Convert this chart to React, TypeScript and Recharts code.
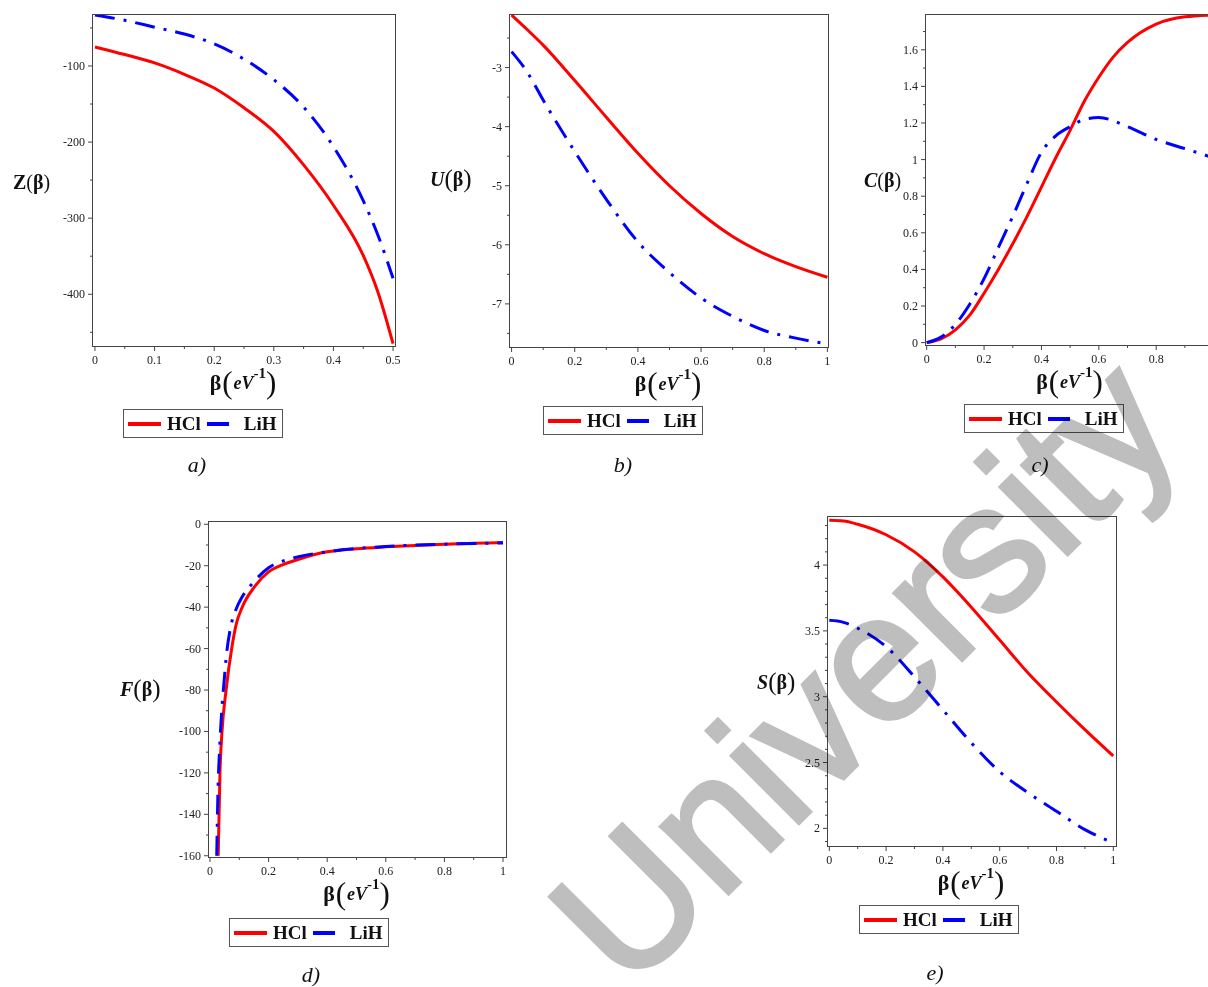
import { LineChart, Line, XAxis, YAxis } from 'recharts';

// a) Z(beta)
const Z_BETA = [0, 0.05, 0.1, 0.15, 0.2, 0.25, 0.3, 0.35, 0.4, 0.45, 0.475, 0.5];
const Z_HCL = [-75, -85, -96, -111, -129, -155, -186, -230, -283, -349, -398, -465];
const Z_LIH = [-33, -40, -49, -58, -71, -91, -118, -154, -206, -277, -323, -379];

// b) U(beta)
const U_BETA = [0, 0.05, 0.1, 0.2, 0.3, 0.4, 0.5, 0.6, 0.7, 0.8, 0.9, 1];
const U_HCL = [-2.11, -2.36, -2.62, -3.22, -3.84, -4.45, -5.0, -5.47, -5.86, -6.15, -6.37, -6.55];
const U_LIH = [-2.73, -3.08, -3.55, -4.42, -5.23, -5.95, -6.47, -6.9, -7.21, -7.45, -7.58, -7.68];

// c) C(beta)
const C_BETA_HCL = [0, 0.05, 0.1, 0.15, 0.2, 0.25, 0.3, 0.35, 0.4, 0.45, 0.5, 0.55, 0.6, 0.65, 0.7, 0.8, 0.9, 1];
const C_HCL = [0, 0.02, 0.07, 0.15, 0.27, 0.4, 0.54, 0.69, 0.85, 1.01, 1.16, 1.32, 1.45, 1.56, 1.64, 1.74, 1.78, 1.79];
const C_BETA_LIH = [0, 0.05, 0.1, 0.15, 0.2, 0.25, 0.3, 0.35, 0.4, 0.45, 0.5, 0.55, 0.6, 0.7, 0.8, 0.9, 1];
const C_LIH = [0, 0.03, 0.1, 0.21, 0.35, 0.52, 0.69, 0.87, 1.04, 1.13, 1.18, 1.22, 1.23, 1.18, 1.11, 1.06, 1.01];

// d) F(beta)
const F_BETA_HCL = [0.028, 0.034, 0.041, 0.055, 0.074, 0.09, 0.11, 0.153, 0.2, 0.24, 0.3, 0.4, 0.5, 0.6, 0.7, 0.8, 0.9, 1];
const F_HCL = [-160, -120, -100, -80, -60, -48, -40, -30, -23, -20, -17, -13.3, -11.8, -10.9, -10.2, -9.6, -9.2, -8.8];
const F_BETA_LIH = [0.023, 0.027, 0.033, 0.04, 0.048, 0.057, 0.07, 0.089, 0.11, 0.142, 0.2, 0.28, 0.4, 0.5, 0.6, 0.8, 1];
const F_LIH = [-160, -130, -108, -90, -76, -62, -50, -41, -35, -29, -21, -16.5, -13.3, -11.7, -10.7, -9.6, -9];

// e) S(beta)
const S_BETA = [0, 0.05, 0.1, 0.2, 0.3, 0.4, 0.5, 0.6, 0.7, 0.8, 0.9, 1];
const S_HCL = [4.34, 4.335, 4.31, 4.23, 4.1, 3.91, 3.68, 3.43, 3.18, 2.96, 2.75, 2.55];
const S_LIH = [3.58, 3.565, 3.52, 3.38, 3.15, 2.9, 2.65, 2.43, 2.27, 2.13, 1.99, 1.89];

// tick labels
const X_MAJOR_HALF = [0, 0.1, 0.2, 0.3, 0.4, 0.5];
const X_MAJOR_ONE = [0, 0.2, 0.4, 0.6, 0.8, 1];
const X_LABELS_C = [0, 0.2, 0.4, 0.6, 0.8]; // "1" falls outside the page in c)
const Z_MAJOR = [-400, -300, -200, -100];
const U_MAJOR = [-7, -6, -5, -4, -3];
const C_MAJOR = [0, 0.2, 0.4, 0.6, 0.8, 1, 1.2, 1.4, 1.6];
const F_MAJOR = [-160, -140, -120, -100, -80, -60, -40, -20, 0];
const S_MAJOR = [2, 2.5, 3, 3.5, 4];

const YW = 45, MT = 5, MR = 5, XH = 25;
const SERIF = '"Liberation Serif", "Times New Roman", serif';

const pts = (beta: number[], vals: number[]) => beta.map((b, i) => ({ b, v: vals[i] }));
const steps = (from: number, to: number, step: number) => {
  const out: number[] = [];
  for (let k = 0; from + k * step <= to + step / 2; k++) out.push(Math.round((from + k * step) * 1e6) / 1e6);
  return out;
};
const has = (list: number[], v: number) => list.some((m) => Math.abs(m - v) < 1e-6);

const makeYTick = (majors: number[]) => (props: any) => {
  const { y, payload } = props;
  const major = has(majors, payload.value);
  return (
    <g>
      <line x1={YW - (major ? 5 : 3)} x2={YW} y1={y} y2={y} stroke="#444" />
      {major && (
        <text x={YW - 8} y={y + 4} textAnchor="end" fontSize={12} fill="#222" fontFamily={SERIF}>
          {String(payload.value)}
        </text>
      )}
    </g>
  );
};

const makeXTick = (majors: number[], labels: number[], axisY: number) => (props: any) => {
  const { x, payload } = props;
  const major = has(majors, payload.value);
  return (
    <g>
      <line x1={x} x2={x} y1={axisY} y2={axisY + (major ? 5 : 3)} stroke="#444" />
      {has(labels, payload.value) && (
        <text x={x} y={axisY + 18} textAnchor="middle" fontSize={12} fill="#222" fontFamily={SERIF}>
          {String(payload.value)}
        </text>
      )}
    </g>
  );
};

const PANELS = [
  {
    id: 'a', left: 93, top: 15, w: 302, h: 331,
    xDomain: [-0.0033, 0.5033], yDomain: [-468, -33],
    xMajor: X_MAJOR_HALF, xLabels: X_MAJOR_HALF, xMinor: steps(0, 0.5, 0.05), yMajor: Z_MAJOR, yMinor: steps(-450, -50, 50),
    hcl: pts(Z_BETA, Z_HCL), lih: pts(Z_BETA, Z_LIH),
    yl: { ch: 'Z', italic: false, big: false, left: 13, top: 172 },
    legend: { left: 123, top: 409 }, cap: { text: 'a)', cx: 197, top: 452 },
  },
  {
    id: 'b', left: 510, top: 15, w: 318, h: 332,
    xDomain: [-0.005, 1.002], yDomain: [-7.73, -2.11],
    xMajor: X_MAJOR_ONE, xLabels: X_MAJOR_ONE, xMinor: steps(0, 1, 0.1), yMajor: U_MAJOR, yMinor: steps(-7.5, -2.5, 0.5),
    hcl: pts(U_BETA, U_HCL), lih: pts(U_BETA, U_LIH),
    yl: { ch: 'U', italic: true, big: true, left: 430, top: 166 },
    legend: { left: 543, top: 406 }, cap: { text: 'b)', cx: 623, top: 452 },
  },
  {
    id: 'c', left: 926, top: 15, w: 289, h: 330,
    xDomain: [-0.0024, 1.005], yDomain: [-0.013, 1.79],
    xMajor: X_MAJOR_ONE, xLabels: X_LABELS_C, xMinor: steps(0, 1, 0.1), yMajor: C_MAJOR, yMinor: steps(0.1, 1.7, 0.1),
    hcl: pts(C_BETA_HCL, C_HCL), lih: pts(C_BETA_LIH, C_LIH),
    yl: { ch: 'C', italic: true, big: false, left: 864, top: 170 },
    legend: { left: 964, top: 404 }, cap: { text: 'c)', cx: 1040, top: 452 },
  },
  {
    id: 'd', left: 209, top: 522, w: 297, h: 335,
    xDomain: [-0.0034, 1.0102], yDomain: [-160.6, 1.1],
    xMajor: X_MAJOR_ONE, xLabels: X_MAJOR_ONE, xMinor: steps(0, 1, 0.1), yMajor: F_MAJOR, yMinor: steps(-150, -10, 10),
    hcl: pts(F_BETA_HCL, F_HCL), lih: pts(F_BETA_LIH, F_LIH),
    yl: { ch: 'F', italic: true, big: true, left: 120, top: 676 },
    legend: { left: 229, top: 918 }, cap: { text: 'd)', cx: 311, top: 962 },
  },
  {
    id: 'e', left: 828, top: 517, w: 288, h: 329,
    xDomain: [-0.0046, 1.0095], yDomain: [1.866, 4.365],
    xMajor: X_MAJOR_ONE, xLabels: X_MAJOR_ONE, xMinor: steps(0, 1, 0.1), yMajor: S_MAJOR, yMinor: steps(1.9, 4.3, 0.1),
    hcl: pts(S_BETA, S_HCL), lih: pts(S_BETA, S_LIH),
    yl: { ch: 'S', italic: true, big: true, left: 757, top: 669 },
    legend: { left: 859, top: 905 }, cap: { text: 'e)', cx: 935, top: 960 },
  },
];

const YLabel = ({ yl }: any) => (
  <div style={{ position: 'absolute', left: yl.left, top: yl.top, fontFamily: SERIF, color: '#111', whiteSpace: 'nowrap', lineHeight: 1, display: 'flex', alignItems: 'center' }}>
    <span style={{ fontSize: 20, fontWeight: 700, fontStyle: yl.italic ? 'italic' : 'normal' }}>{yl.ch}</span>
    <span style={{ fontSize: yl.big ? 25 : 20, fontWeight: yl.big ? 300 : 400 }}>(</span>
    <span style={{ fontSize: 20, fontWeight: 700 }}>β</span>
    <span style={{ fontSize: yl.big ? 25 : 20, fontWeight: yl.big ? 300 : 400 }}>)</span>
  </div>
);

const XLabel = ({ cx, top }: { cx: number; top: number }) => (
  <div style={{ position: 'absolute', left: cx, top, transform: 'translateX(-50%)', fontFamily: SERIF, color: '#111', whiteSpace: 'nowrap', lineHeight: 1, display: 'flex', alignItems: 'center' }}>
    <span style={{ fontSize: 22, fontWeight: 700 }}>β</span>
    <span style={{ fontSize: 31, fontWeight: 300, margin: '0 1px' }}>(</span>
    <span style={{ fontSize: 18, fontWeight: 700, fontStyle: 'italic' }}>eV</span>
    <span style={{ fontSize: 15, fontWeight: 700, position: 'relative', top: -9 }}>-1</span>
    <span style={{ fontSize: 31, fontWeight: 300 }}>)</span>
  </div>
);

const LegendBox = ({ left, top }: { left: number; top: number }) => (
  <div style={{ position: 'absolute', left, top, height: 29, boxSizing: 'border-box', border: '1.5px solid #555', background: '#fff', display: 'flex', alignItems: 'center', padding: '0 5px 0 4px', fontFamily: SERIF, fontWeight: 700, fontSize: 19, color: '#111' }}>
    <span style={{ display: 'inline-block', width: 33, height: 4, background: '#ff0000', marginRight: 6 }} />
    <span>HCl</span>
    <span style={{ display: 'inline-block', width: 22, height: 4, background: '#0000ff', margin: '0 15px 0 6px' }} />
    <span>LiH</span>
  </div>
);

const Panel = ({ p }: any) => {
  const W = YW + p.w + MR;
  const H = MT + p.h + XH;
  const xTicks = Array.from(new Set([...p.xMinor, ...p.xMajor])).sort((a: any, b: any) => a - b);
  const yTicks = Array.from(new Set([...p.yMinor, ...p.yMajor])).sort((a: any, b: any) => a - b);
  return (
    <>
      <div style={{ position: 'absolute', left: p.left - YW, top: p.top - MT, width: W, height: H }}>
        <LineChart width={W} height={H} margin={{ top: MT, right: MR, left: 0, bottom: 0 }}>
          <XAxis
            type="number"
            dataKey="b"
            domain={p.xDomain}
            allowDataOverflow
            ticks={xTicks}
            interval={0}
            height={XH}
            axisLine={false}
            tickLine={false}
            tick={makeXTick(p.xMajor, p.xLabels, MT + p.h)}
          />
          <YAxis
            type="number"
            domain={p.yDomain}
            allowDataOverflow
            ticks={yTicks}
            interval={0}
            width={YW}
            axisLine={false}
            tickLine={false}
            tick={makeYTick(p.yMajor)}
          />
          <Line data={p.hcl} dataKey="v" name="HCl" type="monotone" stroke="#ff0000" strokeWidth={3} dot={false} isAnimationActive={false} />
          <Line data={p.lih} dataKey="v" name="LiH" type="monotone" stroke="#0000ff" strokeWidth={3} strokeDasharray="20 9 3 9" dot={false} isAnimationActive={false} />
        </LineChart>
        <div style={{ position: 'absolute', left: YW - 1, top: MT - 1, width: p.w + 2, height: p.h + 2, boxSizing: 'border-box', border: '1px solid #444', pointerEvents: 'none' }} />
      </div>
      <YLabel yl={p.yl} />
      <XLabel cx={p.left + p.w / 2 - 1} top={p.top + p.h + 21} />
      <LegendBox left={p.legend.left} top={p.legend.top} />
      <div style={{ position: 'absolute', left: p.cap.cx, top: p.cap.top, transform: 'translateX(-50%)', fontFamily: SERIF, fontStyle: 'italic', fontSize: 22, color: '#111' }}>
        {p.cap.text}
      </div>
    </>
  );
};

// watermark: baseline start and font size
const WM_SIZE = 180;
const WM_BASE = 0.8465 * WM_SIZE;

export default function App() {
  return (
    <div style={{ position: 'absolute', left: 0, top: 0, width: 1208, height: 987, overflow: 'hidden', background: '#fff', isolation: 'isolate' }}>
      {PANELS.map((p) => (
        <Panel key={p.id} p={p} />
      ))}
      <div
        style={{
          position: 'absolute',
          left: 628,
          top: 994 - WM_BASE,
          fontFamily: '"Liberation Sans", Arial, sans-serif',
          fontSize: WM_SIZE,
          lineHeight: 1,
          whiteSpace: 'nowrap',
          color: 'rgb(190,190,190)',
          WebkitTextStroke: '4px rgb(190,190,190)',
          transformOrigin: `0px ${WM_BASE}px`,
          transform: 'rotate(-45deg)',
          mixBlendMode: 'multiply',
          pointerEvents: 'none',
        }}
      >
        University
      </div>
    </div>
  );
}
